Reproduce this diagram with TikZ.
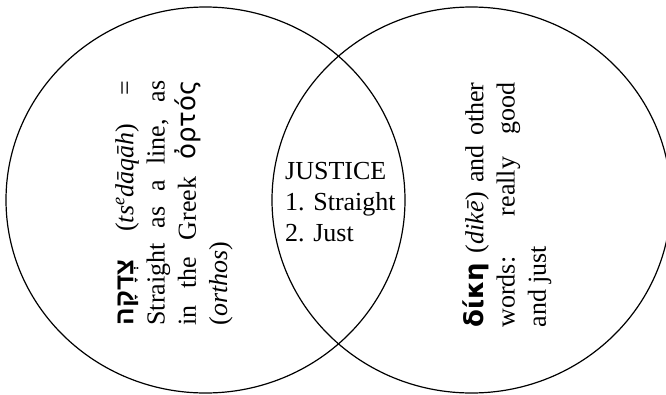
\documentclass[tikz,border=0pt]{standalone}
\usepackage{fontspec}
\setmainfont{Liberation Serif}
\newfontfamily\hebfont[Script=Hebrew]{Liberation Sans}
\newfontfamily\grkfont{DejaVu Sans}
\TeXXeTstate=1
\usetikzlibrary{shapes.geometric}
\begin{document}
\begin{tikzpicture}[x=1pt,y=-1pt]
\tikzset{
  circ/.style={ellipse, draw, line width=1.2pt, minimum width=399pt, minimum height=386pt, inner sep=0pt},
  txt/.style={font=\fontsize{26}{31.2}\selectfont, inner sep=0pt}
}
\useasboundingbox (0,0) rectangle (666,394);
\node[circ] (L) at (205.5,200) {};
\node[circ] (R) at (471.5,200) {};
\node[txt, rotate=90, text width=245pt, align=justify] (lt) at (174,203)
  {{\hebfont\bfseries\beginR צְדָקָה\endR} (\textit{ts\textsuperscript{e}dāqāh}) =\linebreak Straight as a line, as\linebreak in the Greek {\grkfont ὀρτός}\linebreak (\textit{orthos})};
\node[txt, align=left, anchor=north west] (ct) at (285,162) {JUSTICE\\1. Straight\\2. Just};
\node[txt, rotate=90, text width=245pt, align=justify] (rt) at (507,205)
  {{\grkfont\bfseries δίκη} (\textit{dikē}) and other\linebreak words: really good\linebreak and just};
\end{tikzpicture}
\end{document}
